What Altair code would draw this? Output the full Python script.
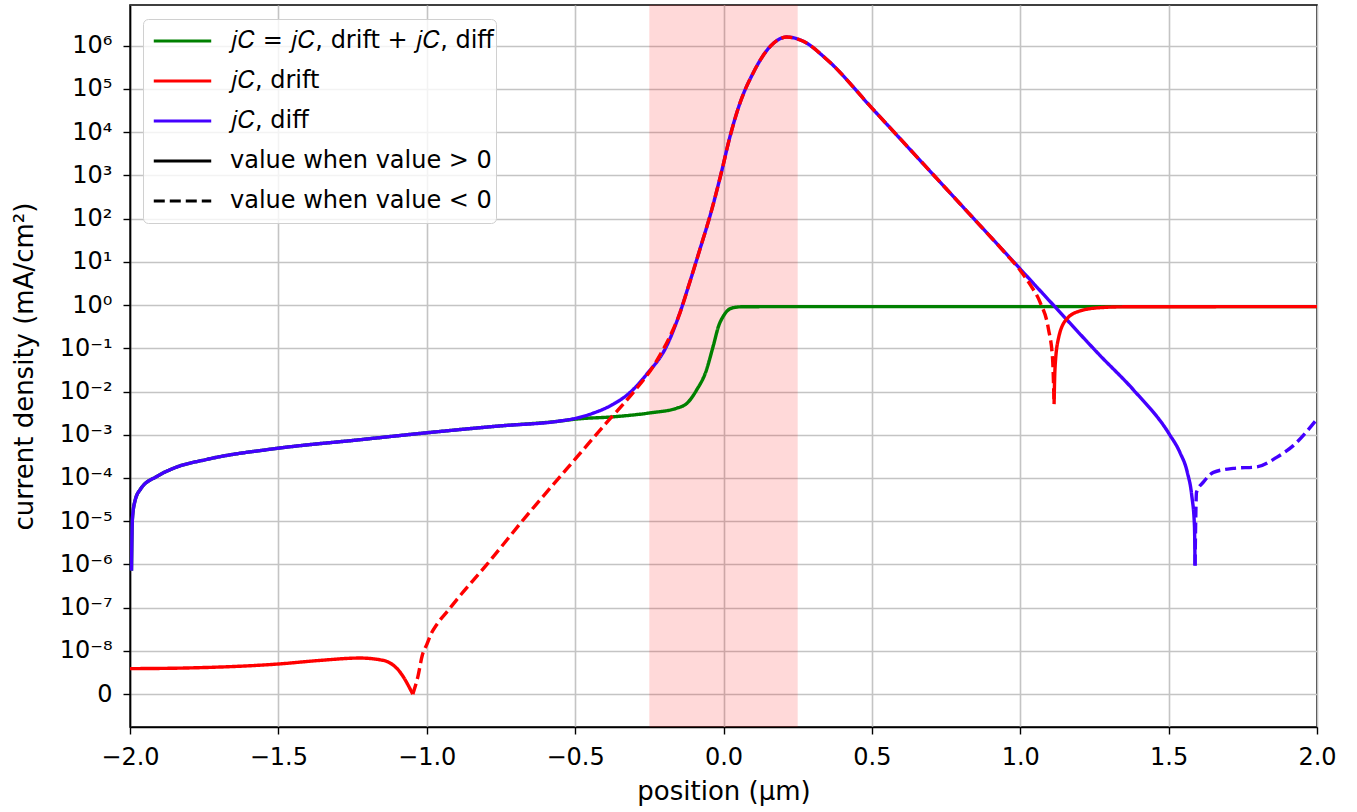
import altair as alt
import pandas as pd

# ---------------- data ----------------
# total current j_C (green)
tot_x = [-1.995, -1.992, -1.984, -1.964, -1.908, -1.851, -1.74, -1.498, -1.231, -1.006,
         -0.753, -0.56, -0.498, -0.371, -0.248, -0.158, -0.12, -0.09, -0.06, -0.035,
         -0.015, 0.0, 0.015, 0.033, 0.06, 0.2, 1.0, 2.0]
tot_j = [7.2e-7, 1.1e-5, 2.8e-5, 5.6e-5, 1.1e-4, 1.7e-4, 2.7e-4, 4.9e-4, 7.6e-4, 1.1e-3,
         1.6e-3, 2.04e-3, 2.3e-3, 2.6e-3, 3.2e-3, 4.1e-3, 5.6e-3, 1.1e-2, 2.8e-2, 0.11,
         0.35, 0.56, 0.76, 0.87, 0.91, 0.92, 0.92, 0.92]

# drift current j_C,drift (red)
drift_x = [-2.0, -1.809, -1.495, -1.36, -1.225, -1.146, -1.09, -1.047, -1.03, -1.015,
           -1.0, -0.985, -0.965, -0.93, -0.9, -0.8, -0.663, -0.529, -0.394, -0.304,
           -0.236, -0.169, -0.152, -0.115, -0.079, -0.043, -0.006, 0.022, 0.056, 0.1,
           0.157, 0.213, 0.269, 0.348, 0.505, 0.662, 0.831, 0.95, 1.0, 1.033,
           1.067, 1.095, 1.109, 1.114,
           1.117, 1.128, 1.156, 1.201, 1.269, 1.35, 2.0]
drift_j = [5.9e-9, 6.05e-9, 7.0e-9, 7.8e-9, 8.35e-9, 7.8e-9, 5.1e-9, 0.0, -4e-9, -9e-9,
           -1.4e-8, -2.5e-8, -4.2e-8, -8.3e-8, -1.5e-7, -9.5e-7, -1.35e-5, -1.6e-4, -1.9e-3, -9.5e-3,
           -3.9e-2, -0.28, -0.525, -3.16, -20.0, -132.0, -1259.0, -7943.0, -4.8e4, -2.34e5,
           -9.5e5, -1.58e6, -1.26e6, -4.8e5, -3.3e4, -2239.0, -123.0, -15.8, -6.3, -3.0,
           -1.15, -0.28, -5.6e-2, -5.1e-3,
           3.3e-2, 0.16, 0.47, 0.73, 0.87, 0.91, 0.92]

# diffusion current j_C,diff (blue)
diff_x = [-1.995, -1.992, -1.984, -1.964, -1.908, -1.851, -1.74, -1.498, -1.231, -1.006,
          -0.753, -0.56, -0.498, -0.439, -0.371, -0.315, -0.259, -0.191, -0.152, -0.115,
          -0.079, -0.043, -0.006, 0.022, 0.056, 0.1, 0.157, 0.213, 0.269, 0.348,
          0.505, 0.662, 0.831, 0.971, 1.106, 1.269, 1.381, 1.502, 1.538, 1.563,
          1.578, 1.587, 1.589,
          1.594, 1.617, 1.651, 1.718, 1.797, 1.864, 1.92, 2.0]
diff_j = [7.2e-7, 1.1e-5, 2.8e-5, 5.6e-5, 1.1e-4, 1.7e-4, 2.7e-4, 4.9e-4, 7.6e-4, 1.1e-3,
          1.6e-3, 2.04e-3, 2.4e-3, 3.16e-3, 5.1e-3, 9.5e-3, 2.5e-2, 0.115, 0.525, 3.16,
          20.0, 132.0, 1259.0, 7943.0, 4.8e4, 2.34e5, 9.5e5, 1.58e6, 1.26e6, 4.8e5,
          3.3e4, 2239.0, 123.0, 11.2, 1.1, 6.8e-2, 1.1e-2, 1.04e-3, 3.9e-4, 1.35e-4,
          3.9e-5, 7.9e-6, 9.4e-7,
          -4.7e-5, -8e-5, -1.35e-4, -1.67e-4, -1.8e-4, -3e-4, -5.6e-4, -2.3e-3]

# shaded region (µm)
band_start = [-0.25]
band_end = [0.25]

# labels
series_names = ["𝑗𝐶 = 𝑗𝐶, drift + 𝑗𝐶, diff", "𝑗𝐶, drift", "𝑗𝐶, diff"]
sign_names = ["value when value > 0", "value when value < 0"]
legend_keys = series_names + sign_names
key_colors = ["#008000", "#ff0000", "#4400ff", "#000000", "#000000"]
key_dashes = [[1, 0], [1, 0], [1, 0], [1, 0], [11, 5]]
y_tick_values = list(range(0, 16))
y_tick_labels = ["0", "10⁻⁸", "10⁻⁷", "10⁻⁶", "10⁻⁵", "10⁻⁴", "10⁻³", "10⁻²", "10⁻¹",
                 "10⁰", "10¹", "10²", "10³", "10⁴", "10⁵", "10⁶"]
x_tick_values = [-2.0, -1.5, -1.0, -0.5, 0.0, 0.5, 1.0, 1.5, 2.0]


def build(name, xs, js):
    rows = []
    seg = 0
    prev = None
    prev_sign = None
    for x, j in zip(xs, js):
        s = sign_names[1] if j < 0 else sign_names[0]
        if prev_sign is not None and s != prev_sign:
            seg += 1
            rows.append(dict(series=name, seg=f"{name}-{seg}", sign=s, x=prev[0], j=prev[1]))
        rows.append(dict(series=name, seg=f"{name}-{seg}", sign=s, x=x, j=j))
        prev, prev_sign = (x, j), s
    return pd.DataFrame(rows)


df_tot = build(series_names[0], tot_x, tot_j)
df_drift = build(series_names[1], drift_x, drift_j)
df_diff = build(series_names[2], diff_x, diff_j)
df_band = pd.DataFrame({"x0": band_start, "x1": band_end})

FONT = "DejaVu Sans"
W, H = 1187, 722

xscale = alt.Scale(domain=[-2, 2], nice=False, zero=False)
yscale = alt.Scale(domain=[-0.76, 15.94], nice=False, zero=False)
cscale = alt.Scale(domain=legend_keys, range=key_colors)
dscale = alt.Scale(domain=legend_keys, range=key_dashes)

label_expr = "[" + ",".join(f"'{l}'" for l in y_tick_labels) + "][datum.value]"

x_enc = alt.X("x:Q", scale=xscale,
              axis=alt.Axis(values=x_tick_values, format=".1f", title="position (μm)",
                            titlePadding=9, labelPadding=11, labelFlush=False))
y_enc = alt.Y("t:Q", scale=yscale,
              axis=alt.Axis(values=y_tick_values, labelExpr=label_expr,
                            title="current density (mA/cm²)", titlePadding=22,
                            labelPadding=11, labelFlush=False))

legend = alt.Legend(
    title=None, orient="none", legendX=13, legendY=14,
    symbolType="stroke", symbolSize=3300, symbolStrokeWidth=3.2, symbolOpacity=1,
    labelFont=FONT, labelFontSize=24, labelLimit=600, labelColor="black",
    clipHeight=40, rowPadding=0, padding=2, symbolOffset=7,
    strokeColor="#d0d0d0", fillColor="rgba(255,255,255,0.8)",
    cornerRadius=5, labelOffset=17,
)


def line_layer(df):
    return alt.Chart(df).transform_calculate(
        a="abs(datum.j)"
    ).transform_calculate(
        t="datum.a < 1e-8 ? datum.a * 1e8 : log(datum.a) / LN10 + 9"
    ).mark_line(
        strokeWidth=3.4, interpolate="monotone", strokeCap="butt"
    ).encode(
        x=x_enc, y=y_enc,
        color=alt.Color("series:N", scale=cscale, legend=legend),
        strokeDash=alt.StrokeDash("sign:N", scale=dscale, legend=legend),
        detail="seg:N",
    )


band = alt.Chart(df_band).mark_rect(color="red", opacity=0.15).encode(
    x=alt.X("x0:Q", scale=xscale), x2="x1:Q"
)

chart = alt.layer(
    band,
    line_layer(df_tot),
    line_layer(df_diff),
    line_layer(df_drift),
).properties(
    width=W, height=H,
    padding={"left": 130, "top": 5, "right": 40, "bottom": 85},
    autosize=alt.AutoSizeParams(type="none"),
).configure_view(
    stroke="black", strokeWidth=1.6
).configure_axis(
    labelFont=FONT, labelFontSize=24, labelColor="black",
    titleFont=FONT, titleFontSize=26, titleColor="black", titleFontWeight="normal",
    tickColor="black", tickSize=7, tickWidth=1.4, domainColor="black", domainWidth=1.6,
    gridColor="#c4c4c4", gridWidth=1.6,
)

chart.save("out.html", embed_options={"renderer": "svg", "actions": False})
